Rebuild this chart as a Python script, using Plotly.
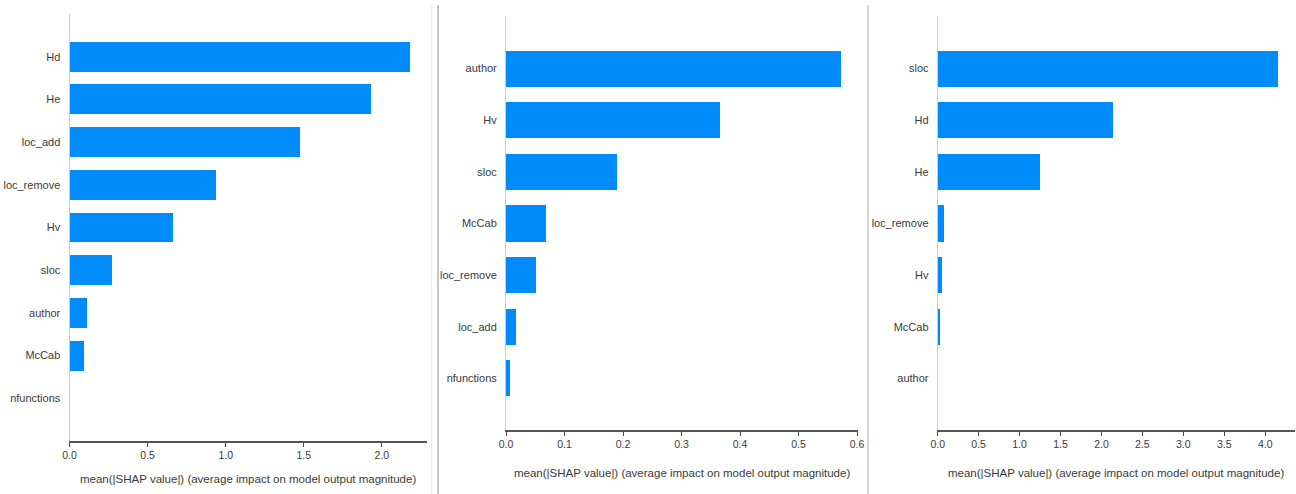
import plotly.graph_objects as go

# ---- data ----
features_1 = ["Hd", "He", "loc_add", "loc_remove", "Hv", "sloc", "author", "McCab", "nfunctions"]
values_1 = [2.18, 1.93, 1.47, 0.935, 0.658, 0.271, 0.108, 0.089, 0.0]

features_2 = ["author", "Hv", "sloc", "McCab", "loc_remove", "loc_add", "nfunctions"]
values_2 = [0.573, 0.365, 0.189, 0.068, 0.052, 0.0165, 0.0068]

features_3 = ["sloc", "Hd", "He", "loc_remove", "Hv", "McCab", "author"]
values_3 = [4.156, 2.134, 1.242, 0.073, 0.044, 0.016, 0.0]

xticks_1 = [0.0, 0.5, 1.0, 1.5, 2.0]
xticks_2 = [0.0, 0.1, 0.2, 0.3, 0.4, 0.5, 0.6]
xticks_3 = [0.0, 0.5, 1.0, 1.5, 2.0, 2.5, 3.0, 3.5, 4.0]

xlabel = "mean(|SHAP value|) (average impact on model output magnitude)"

W, H = 1296, 494
FONT = "Liberation Sans, Arial, sans-serif"
BAR = "#008bfb"
TXT = "#3a3a3a"

panels = [
    # features, values, ticks, x-domain px, y-top px, y-bottom px, title y px
    (features_1, values_1, xticks_1, (69.5, 427), 14, 441, 479),
    (features_2, values_2, xticks_2, (506, 858), 17, 430, 473),
    (features_3, values_3, xticks_3, (937.7, 1295), 17, 430, 473),
]

fig = go.Figure()
annotations = []
for i, (feats, vals, ticks, (x0, x1), yt, yb, ty) in enumerate(panels, start=1):
    sfx = "" if i == 1 else str(i)
    fig.add_trace(go.Bar(
        x=vals, y=feats, orientation="h",
        marker=dict(color=BAR, line=dict(width=0)),
        width=0.7,
        xaxis="x" + sfx, yaxis="y" + sfx,
        showlegend=False, hoverinfo="x+y",
    ))
    n = len(feats)
    fig.layout["xaxis" + sfx] = dict(
        domain=[x0 / W, x1 / W],
        anchor="y" + sfx,
        range=[0, max(vals) * 1.05],
        tickmode="array", tickvals=ticks, ticktext=["%.1f" % t for t in ticks],
        ticks="outside", ticklen=4, tickwidth=1, tickcolor="#444444",
        showline=True, linecolor="#555555", linewidth=1.5,
        showgrid=False, zeroline=False, automargin=False,
        tickfont=dict(family=FONT, size=10.5, color=TXT),
        ticklabelstandoff=0,
        fixedrange=True,
    )
    fig.layout["yaxis" + sfx] = dict(
        domain=[1 - yb / H, 1 - yt / H],
        anchor="x" + sfx,
        type="category",
        categoryorder="array", categoryarray=feats[::-1],
        range=[-1, n],
        showline=True, linecolor="#cccccc", linewidth=1,
        ticks="", showgrid=False, zeroline=False, automargin=False,
        tickfont=dict(family=FONT, size=11, color=TXT),
        ticklabelstandoff=6,
        fixedrange=True,
    )
    annotations.append(dict(
        x=(x0 + x1) / 2 / W, y=1 - ty / H, xref="paper", yref="paper",
        text=xlabel, showarrow=False, xanchor="center", yanchor="middle",
        font=dict(family=FONT, size=11.5, color=TXT),
    ))

# panel separators of the composite image
shapes = [
    dict(type="line", xref="paper", yref="paper", x0=431.5 / W, x1=431.5 / W, y0=0, y1=1 - 5 / H,
         line=dict(color="#eeeeee", width=1.5)),
    dict(type="line", xref="paper", yref="paper", x0=438 / W, x1=438 / W, y0=0, y1=1 - 5 / H,
         line=dict(color="#a0a0a0", width=1.2)),
    dict(type="line", xref="paper", yref="paper", x0=868 / W, x1=868 / W, y0=0, y1=1 - 5 / H,
         line=dict(color="#d6d6d6", width=2)),
]

fig.update_layout(
    width=W, height=H,
    margin=dict(l=0, r=0, t=0, b=0),
    paper_bgcolor="white", plot_bgcolor="white",
    annotations=annotations, shapes=shapes,
    bargap=0,
)

fig.write_html("out.html", config={"displayModeBar": False})
